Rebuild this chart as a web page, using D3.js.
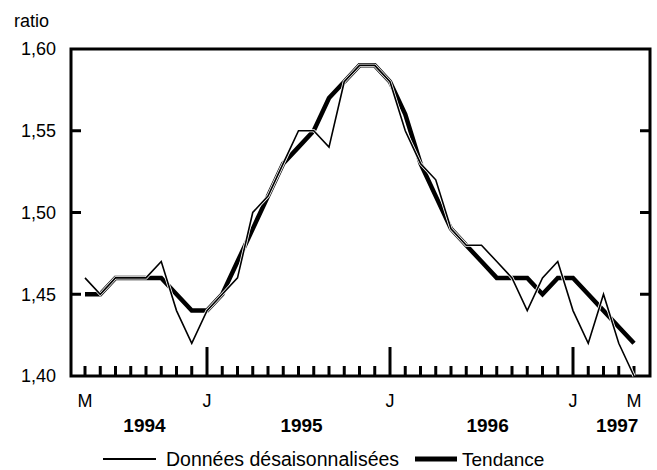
<!DOCTYPE html>
<html><head><meta charset="utf-8">
<script src="https://cdn.jsdelivr.net/npm/d3@7"></script>
<style>body{margin:0;background:#fff}svg{display:block}text{font-family:"Liberation Sans",Arial,sans-serif;fill:#000}</style>
</head><body><svg id="c" width="657" height="470"></svg>
<script>
// Months May 1994 .. May 1997 (index 0..36)
const monthLabels = [{i:0,t:"M"},{i:8,t:"J"},{i:20,t:"J"},{i:32,t:"J"},{i:36,t:"M"}];
const yearLabels = [{c:3.9,t:"1994"},{c:14.2,t:"1995"},{c:26.4,t:"1996"},{c:34.9,t:"1997"}];
const yTicks = [1.40,1.45,1.50,1.55,1.60];
const seasAdj = [1.46,1.45,1.46,1.46,1.46,1.47,1.44,1.42,1.44,1.45,1.46,1.50,1.51,1.53,1.55,1.55,1.54,1.58,1.59,1.59,1.58,1.55,1.53,1.52,1.49,1.48,1.48,1.47,1.46,1.44,1.46,1.47,1.44,1.42,1.45,1.42,1.40];
const trend   = [1.45,1.45,1.46,1.46,1.46,1.46,1.45,1.44,1.44,1.45,1.47,1.49,1.51,1.53,1.54,1.55,1.57,1.58,1.59,1.59,1.58,1.56,1.53,1.51,1.49,1.48,1.47,1.46,1.46,1.46,1.45,1.46,1.46,1.45,1.44,1.43,1.42];

const svg = d3.select("#c");
const L=71, R=650, T=49, B=376;
const x = d3.scaleLinear().domain([0,36]).range([85,634]);
const y = d3.scaleLinear().domain([1.40,1.60]).range([B,T]);

// frame
svg.append("rect").attr("x",L).attr("y",T).attr("width",R-L).attr("height",B-T)
  .attr("fill","none").attr("stroke","#000").attr("stroke-width",3);

// y ticks (left & right, inward)
yTicks.forEach(v=>{
  if (v>1.40 && v<1.60){
    svg.append("line").attr("x1",L).attr("x2",L+10).attr("y1",y(v)).attr("y2",y(v)).attr("stroke","#000").attr("stroke-width",3);
    svg.append("line").attr("x1",R-10).attr("x2",R).attr("y1",y(v)).attr("y2",y(v)).attr("stroke","#000").attr("stroke-width",3);
  }
  svg.append("text").attr("x",56).attr("y",y(v)).attr("dy","0.36em").attr("text-anchor","end")
    .attr("font-size",18).text(d3.format(".2f")(v).replace(".",","));
});
svg.append("text").attr("x",14).attr("y",27).attr("font-size",18).text("ratio");

// x ticks
d3.range(0,37).forEach(i=>{
  const tall = (i===8||i===20||i===32);
  svg.append("line").attr("x1",x(i)).attr("x2",x(i)).attr("y1",B).attr("y2",tall?B-29:B-10)
    .attr("stroke","#000").attr("stroke-width",3);
});
monthLabels.forEach(m=>{
  svg.append("text").attr("x",x(m.i)).attr("y",407).attr("text-anchor","middle").attr("font-size",18).text(m.t);
});
yearLabels.forEach(m=>{
  svg.append("text").attr("x",x(m.c)).attr("y",432).attr("text-anchor","middle").attr("font-size",19).attr("font-weight","bold").text(m.t);
});

// lines
const line = d3.line().x((d,i)=>x(i)).y(d=>y(d));
svg.append("path").datum(trend).attr("d",line).attr("fill","none").attr("stroke","#000").attr("stroke-width",4.5);
svg.append("path").datum(seasAdj).attr("d",line).attr("fill","none").attr("stroke","#fff").attr("stroke-width",3.2);
svg.append("path").datum(seasAdj).attr("d",line).attr("fill","none").attr("stroke","#000").attr("stroke-width",1.6);

// legend
svg.append("line").attr("x1",103).attr("x2",156).attr("y1",459).attr("y2",459).attr("stroke","#000").attr("stroke-width",2);
svg.append("text").attr("x",166).attr("y",466).attr("font-size",19.5).text("Données désaisonnalisées");
svg.append("line").attr("x1",415).attr("x2",457).attr("y1",459).attr("y2",459).attr("stroke","#000").attr("stroke-width",5);
svg.append("text").attr("x",462).attr("y",466).attr("font-size",19).text("Tendance");
</script></body></html>
